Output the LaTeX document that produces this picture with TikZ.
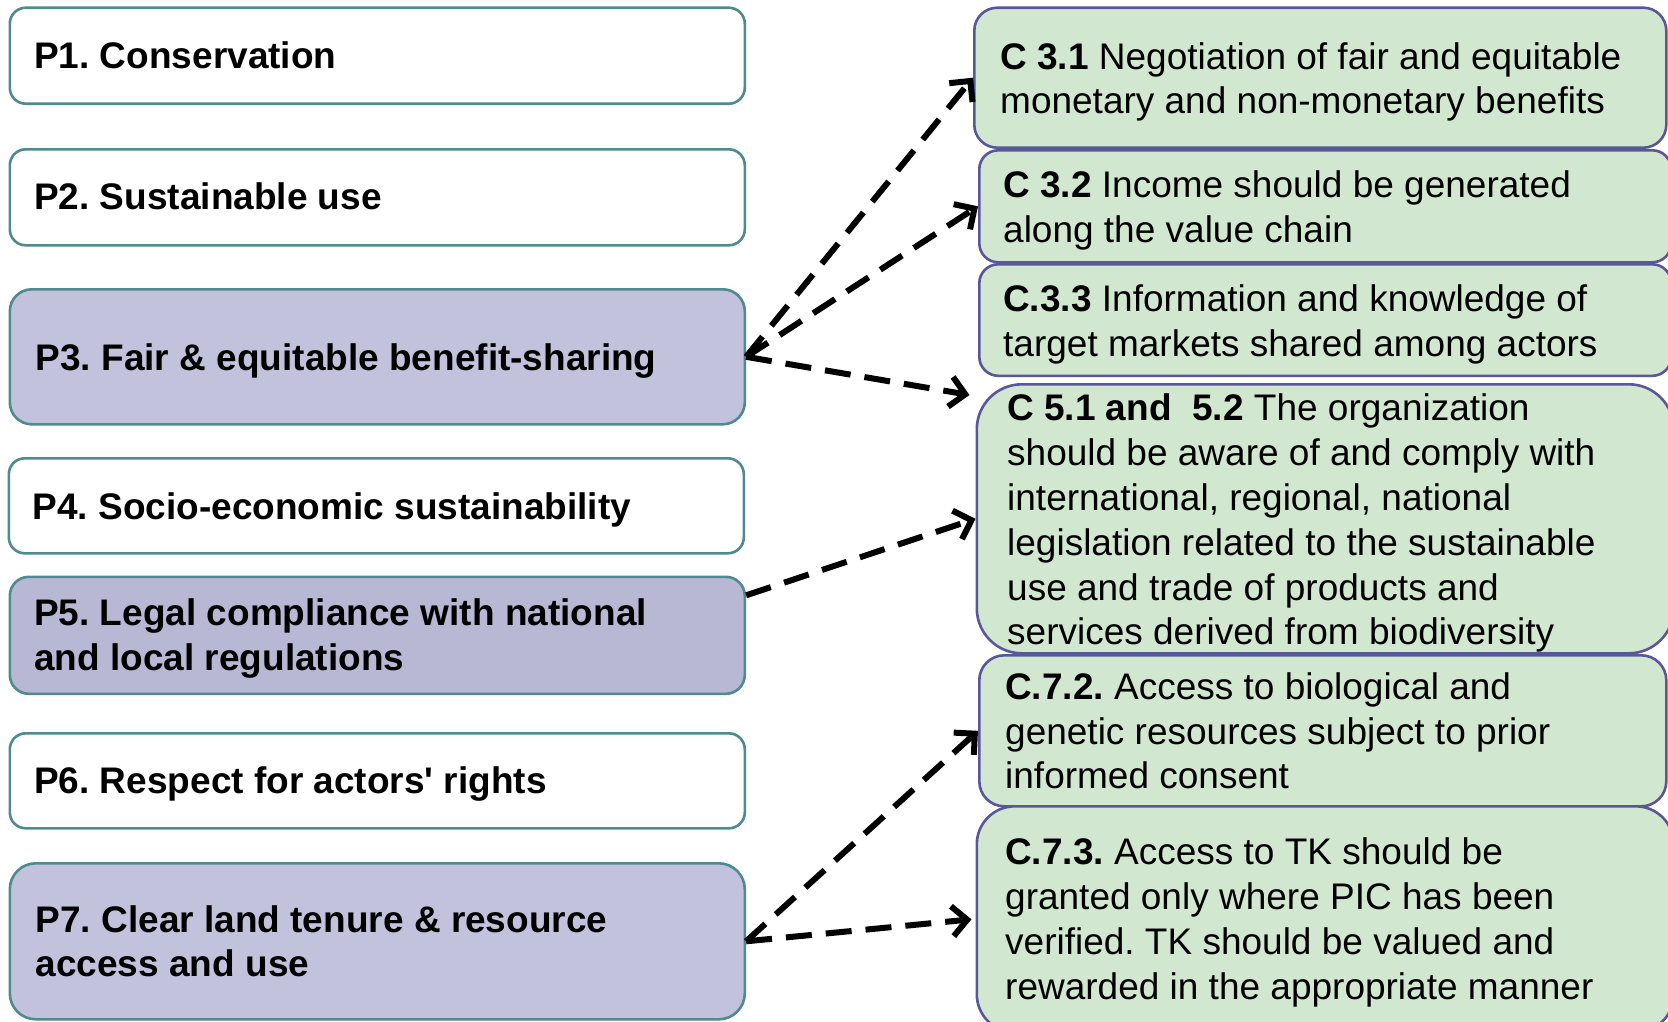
\documentclass[tikz,border=0pt]{standalone}
\usepackage{fontspec}
\setmainfont{Liberation Sans}
\usetikzlibrary{arrows.meta,calc}
\definecolor{pborder}{RGB}{78,138,142}
\definecolor{cborder}{RGB}{88,88,152}
\definecolor{cfill}{RGB}{210,231,208}
\definecolor{plav}{RGB}{194,194,220}
\definecolor{plavb}{RGB}{184,184,213}
\begin{document}
\begin{tikzpicture}[x=1pt,y=-1pt,
  pbox/.style={draw=pborder, line width=2.6pt, anchor=north west, inner sep=0pt, minimum width=735pt},
  cbox/.style={draw=cborder, line width=2.6pt, fill=cfill, anchor=north west, inner sep=0pt},
  ptext/.style={anchor=west, inner sep=0pt, align=left, font=\frenchspacing\bfseries\fontsize{37}{44.8}\selectfont},
  ctext/.style={anchor=west, inner sep=0pt, align=left, font=\frenchspacing\fontsize{37}{44.8}\selectfont},
  link/.style={draw=black, line width=6pt, dash pattern=on 26pt off 14pt, -{Straight Barb[length=15pt,width=30pt]}}
]
\useasboundingbox (0,0) rectangle (1668,1021);
\begin{scope}
\clip (0,0) rectangle (1668,1021);
% left boxes
\node[pbox, fill=white, minimum height=96pt, rounded corners=16pt] (p1) at (8.5,6.4) {};
\node[pbox, fill=white, minimum height=96pt, rounded corners=16pt] (p2) at (8.5,148) {};
\node[pbox, fill=plav, minimum height=135pt, rounded corners=22pt] (p3) at (8.5,288) {};
\node[pbox, fill=white, minimum height=95pt, rounded corners=16pt] (p4) at (7.5,457) {};
\node[pbox, fill=plavb, minimum height=117pt, rounded corners=19pt] (p5) at (8.5,575.5) {};
\node[pbox, fill=white, minimum height=95pt, rounded corners=16pt] (p6) at (8.5,732) {};
\node[pbox, fill=plav, minimum height=156pt, rounded corners=26pt] (p7) at (8.5,862) {};
\node[ptext] (t1) at ([xshift=25.5pt]p1.west) {P1. Conservation};
\node[ptext] (t2) at ([xshift=25.5pt,yshift=1pt]p2.west) {P2. Sustainable use};
\node[ptext] (t3) at ([xshift=27pt,yshift=-4.3pt]p3.west) {P3. Fair \& equitable benefit-sharing};
\node[ptext] (t4) at ([xshift=25pt,yshift=-4.3pt]p4.west) {P4. Socio-economic sustainability};
\node[ptext] (t5) at ([xshift=25.5pt,yshift=-3pt]p5.west) {P5. Legal compliance with national\\and local regulations};
\node[ptext] (t6) at ([xshift=25.5pt,yshift=-3pt]p6.west) {P6. Respect for actors\textquotesingle{} rights};
\node[ptext] (t7) at ([xshift=27pt]p7.west) {P7. Clear land tenure \& resource\\access and use};
% right boxes
\node[cbox, minimum width=692pt, minimum height=140pt, rounded corners=23pt] (c31) at (973,6.4) {};
\node[cbox, minimum width=692pt, minimum height=112pt, rounded corners=19pt] (c32) at (978,149) {};
\node[cbox, minimum width=692pt, minimum height=111.5pt, rounded corners=19pt] (c33) at (978,263) {};
\node[cbox, minimum width=697pt, minimum height=269pt, rounded corners=45pt] (c5) at (975.5,383) {};
\node[cbox, minimum width=687pt, minimum height=151pt, rounded corners=25pt] (c72) at (978,654) {};
\node[cbox, minimum width=697pt, minimum height=226pt, rounded corners=38pt] (c73) at (975.5,805) {};
\node[ctext] (d31) at ([xshift=27pt,yshift=-4.3pt]c31.west) {\textbf{C 3.1} Negotiation of fair and equitable\\monetary and non-monetary benefits};
\node[ctext] (d32) at ([xshift=25pt,yshift=-4.3pt]c32.west) {\textbf{C 3.2} Income should be generated\\along the value chain};
\node[ctext] (d33) at ([xshift=25pt,yshift=-4.3pt]c33.west) {\textbf{C.3.3} Information and knowledge of\\target markets shared among actors};
\node[ctext] (d5) at ([xshift=31.5pt,yshift=-4.5pt]c5.west) {\textbf{C 5.1 and\ \ 5.2} The organization\\should be aware of and comply with\\international, regional, national\\legislation related to the sustainable\\use and trade of products and\\services derived from biodiversity};
\node[ctext] (d72) at ([xshift=27pt]c72.west) {\textbf{C.7.2.} Access to biological and\\genetic resources subject to prior\\informed consent};
\node[ctext] (d73) at ([xshift=29.5pt,yshift=-3pt]c73.west) {\textbf{C.7.3.} Access to TK should be\\granted only where PIC has been\\verified. TK should be valued and\\rewarded in the appropriate manner};
% connectors
\draw[link] (p3.east) -- (c31.west);
\draw[link] (p3.east) -- (c32.west);
\draw[link] (p3.east) -- ([shift={(-6,12)}]c5.north west);
\draw[link] ([yshift=40pt]p5.east) -- (c5.west);
\draw[link] (p7.east) -- (c72.west);
\draw[link] (p7.east) -- ([xshift=-4pt]c73.west);
\end{scope}
\end{tikzpicture}
\end{document}
